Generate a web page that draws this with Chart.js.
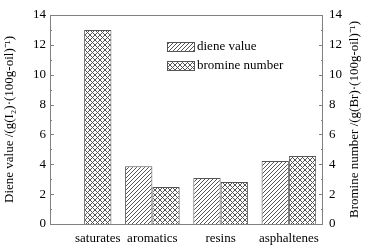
<!DOCTYPE html>
<html>
<head>
<meta charset="utf-8">
<script src="https://cdn.jsdelivr.net/npm/chart.js@4.4.0/dist/chart.umd.min.js"></script>
<style>
  html, body { margin: 0; padding: 0; background: #fff; }
  #wrap { width: 372px; height: 247px; }
</style>
</head>
<body>
<div id="wrap"><canvas id="chart"></canvas></div>
<script>
const categories = ['saturates', 'aromatics', 'resins', 'asphaltenes'];
const dieneValue = [null, 3.87, 3.08, 4.22];
const bromineNumber = [13.0, 2.48, 2.82, 4.55];
const yTicks = [0, 2, 4, 6, 8, 10, 12, 14];

const FONT = '"Liberation Serif", "Times New Roman", serif';

// hatch fills
function makePattern(kind) {
  const c = document.createElement('canvas');
  const s = kind === 'diag' ? 4 : 5;
  c.width = s; c.height = s;
  const g = c.getContext('2d');
  g.fillStyle = '#fff';
  g.fillRect(0, 0, s, s);
  g.strokeStyle = '#555';
  g.lineWidth = 1;
  g.beginPath();
  g.moveTo(-1, s + 1); g.lineTo(s + 1, -1);
  if (kind === 'cross') {
    g.moveTo(-1, -1); g.lineTo(s + 1, s + 1);
  }
  g.stroke();
  return g.createPattern(c, 'repeat');
}

// frame, inward ticks, titles, legend, x labels
const extras = {
  id: 'extras',
  afterDraw(chart) {
    const ctx = chart.ctx;
    const a = chart.chartArea;
    const yl = chart.scales.y;
    const yr = chart.scales.y2;
    ctx.save();
    ctx.strokeStyle = '#808080';
    ctx.lineWidth = 1;
    ctx.strokeRect(a.left + 0.5, a.top + 0.5, a.right - a.left - 1, a.bottom - a.top);

    ctx.beginPath();
    for (let v = 0; v <= 14; v++) {
      const len = v % 2 === 0 ? 4 : 2;
      const py = Math.round(yl.getPixelForValue(v)) + 0.5;
      ctx.moveTo(a.left, py); ctx.lineTo(a.left + len, py);
      const pr = Math.round(yr.getPixelForValue(v)) + 0.5;
      ctx.moveTo(a.right, pr); ctx.lineTo(a.right - len, pr);
    }
    ctx.stroke();

    // axis titles, both reading bottom to top
    ctx.fillStyle = '#000';
    ctx.font = '13px ' + FONT;
    ctx.textAlign = 'center';
    ctx.textBaseline = 'middle';
    const midY = (a.top + a.bottom) / 2;
    ctx.save();
    ctx.translate(10, midY);
    ctx.rotate(-Math.PI / 2);
    ctx.fillText('Diene value /(g(I\u2082)\u00b7(100g-oil)\u207b\u00b9)', 0, 0);
    ctx.restore();
    ctx.save();
    ctx.translate(355, midY);
    ctx.rotate(-Math.PI / 2);
    ctx.fillText('Bromine number /(g(Br)\u00b7(100g-oil)\u207b\u00b9)', 0, 0);
    ctx.restore();

    // category labels centred under the bars that are drawn
    const metas = chart.data.datasets.map((d, i) => chart.getDatasetMeta(i));
    categories.forEach((name, i) => {
      let lo = Infinity, hi = -Infinity;
      metas.forEach((m, di) => {
        const v = chart.data.datasets[di].data[i];
        if (v == null) return;
        const el = m.data[i];
        lo = Math.min(lo, el.x - el.width / 2);
        hi = Math.max(hi, el.x + el.width / 2);
      });
      ctx.fillText(name, (lo + hi) / 2, a.bottom + 15);
    });

    // legend
    const rows = [
      { label: 'diene value', fill: chart.data.datasets[0].backgroundColor },
      { label: 'bromine number', fill: chart.data.datasets[1].backgroundColor }
    ];
    ctx.textAlign = 'left';
    rows.forEach((r, i) => {
      const y0 = 42 + i * 19;
      ctx.fillStyle = r.fill;
      ctx.fillRect(167, y0, 27, 9);
      ctx.strokeStyle = '#555';
      ctx.strokeRect(167.5, y0 + 0.5, 27, 9);
      ctx.fillStyle = '#000';
      ctx.fillText(r.label, 197, y0 + 5);
    });
    ctx.restore();
  }
};

new Chart(document.getElementById('chart'), {
  type: 'bar',
  data: {
    labels: categories,
    datasets: [
      {
        label: 'diene value',
        data: dieneValue,
        backgroundColor: makePattern('diag'),
        borderColor: '#555',
        borderWidth: 1,
        yAxisID: 'y'
      },
      {
        label: 'bromine number',
        data: bromineNumber,
        backgroundColor: makePattern('cross'),
        borderColor: '#555',
        borderWidth: 1,
        yAxisID: 'y'
      }
    ]
  },
  options: {
    responsive: true,
    maintainAspectRatio: false,
    animation: false,
    events: [],
    layout: { padding: { top: 15 } },
    datasets: { bar: { categoryPercentage: 0.8, barPercentage: 1.0 } },
    plugins: { legend: { display: false }, tooltip: { enabled: false } },
    scales: {
      x: {
        grid: { display: false },
        border: { display: false },
        ticks: { display: false },
        afterFit(s) { s.height = 23; }
      },
      y: {
        position: 'left',
        min: 0, max: 14,
        afterBuildTicks(s) { s.ticks = yTicks.map(v => ({ value: v })); },
        grid: { display: false, drawTicks: false },
        border: { display: false },
        ticks: { color: '#000', padding: 4, font: { family: FONT, size: 13 } },
        afterFit(s) { s.width = 50; }
      },
      y2: {
        position: 'right',
        min: 0, max: 14,
        afterBuildTicks(s) { s.ticks = yTicks.map(v => ({ value: v })); },
        grid: { display: false, drawTicks: false },
        border: { display: false },
        ticks: { color: '#000', padding: 6, font: { family: FONT, size: 13 } },
        afterFit(s) { s.width = 49; }
      }
    }
  },
  plugins: [extras]
});
</script>
</body>
</html>
